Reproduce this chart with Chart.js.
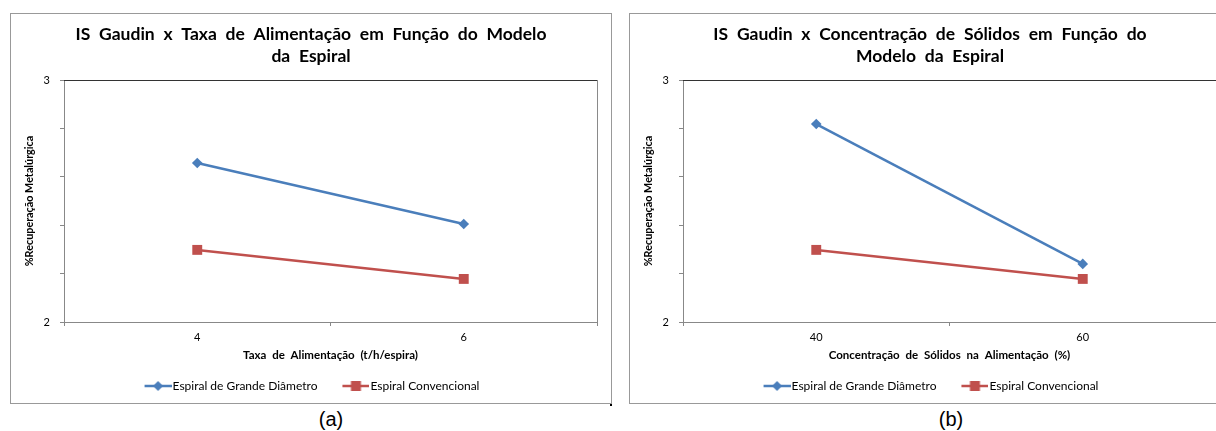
<!DOCTYPE html>
<html><head><meta charset="utf-8">
<script src="https://cdn.jsdelivr.net/npm/chart.js@4"></script>
<style>
html,body{margin:0;padding:0;background:#fff;overflow:hidden;width:1216px;height:431px;position:relative;}
.box{position:absolute;top:13px;width:600px;height:389px;border:1px solid #999;background:#fff;}
#boxA{left:10px;}
#boxB{left:629px;}
canvas{display:block;}
.lab{position:absolute;top:408px;width:100px;text-align:center;font-family:"Liberation Sans",Arial,sans-serif;font-size:20px;line-height:22px;color:#000;}
.dot{position:absolute;left:610px;top:404px;width:2px;height:2px;background:#000;}
</style>
</head><body>
<div class="box" id="boxA"><canvas id="cA" width="600" height="389"></canvas></div>
<div class="box" id="boxB"><canvas id="cB" width="600" height="389"></canvas></div>
<div class="dot"></div>
<div class="lab" style="left:281px">(a)</div>
<div class="lab" style="left:901px">(b)</div>
<script>
const seriesNames = ['Espiral de Grande Diâmetro', 'Espiral Convencional'];
const categoriesA = ['4', '6'];
const grandeA = [2.657, 2.405];
const convA = [2.298, 2.178];
const categoriesB = ['40', '60'];
const grandeB = [2.818, 2.240];
const convB = [2.298, 2.178];
const yShownTicks = [2, 3];
const titleA = ['IS Gaudin x Taxa de Alimentação em Função do Modelo', 'da Espiral'];
const titleB = ['IS Gaudin x Concentração de Sólidos em Função do', 'Modelo da Espiral'];
const xTitleA = 'Taxa de Alimentação (t/h/espira)';
const xTitleB = 'Concentração de Sólidos na Alimentação (%)';
const yTitle = '%Recuperação Metalúrgica';

const BLUE = '#4a7ebb', RED = '#c0504d';
const FONT = 'Lato, "Open Sans", sans-serif';
const PSW = 24; // legend symbol slot width

function legendIcon(color, style) {
  // image is centred on the slot centre; visible symbol drawn from slot x+2 to x+29
  const c = document.createElement('canvas');
  c.width = PSW + 10; c.height = 12;
  const g = c.getContext('2d');
  const x0 = 5 + 2, x1 = x0 + 27;
  g.strokeStyle = color; g.lineWidth = 2.5;
  g.beginPath(); g.moveTo(x0, 6); g.lineTo(x1, 6); g.stroke();
  g.fillStyle = color;
  const cx = (x0 + x1) / 2;
  if (style === 'diamond') {
    g.beginPath(); g.moveTo(cx, 1); g.lineTo(cx + 5, 6); g.lineTo(cx, 11); g.lineTo(cx - 5, 6); g.closePath(); g.fill();
  } else {
    g.fillRect(cx - 5, 1, 10, 10);
  }
  return c;
}
const iconBlue = legendIcon(BLUE, 'diamond');
const iconRed = legendIcon(RED, 'square');

const frame = {
  id: 'frame',
  beforeDatasetsDraw(c) {
    const {ctx, chartArea: a} = c;
    ctx.save();
    ctx.lineWidth = 1;
    ctx.strokeStyle = '#333';
    ctx.beginPath(); ctx.moveTo(a.left, Math.round(a.top) + 0.5); ctx.lineTo(a.right + 1, Math.round(a.top) + 0.5); ctx.stroke();
    ctx.strokeStyle = '#8a8a8a';
    ctx.beginPath(); ctx.moveTo(Math.round(a.right) + 0.5, a.top); ctx.lineTo(Math.round(a.right) + 0.5, a.bottom); ctx.stroke();
    ctx.restore();
  }
};

function withSpacing(obj, method, spacing) {
  const orig = obj[method];
  obj[method] = function (...args) {
    const ctx = this.ctx;
    ctx.save();
    try { ctx.wordSpacing = spacing; } catch (e) {}
    const r = orig.apply(this, args);
    ctx.restore();
    return r;
  };
}

function makeChart(id, cats, g, cv, title, xTitle) {
  const ch = new Chart(document.getElementById(id), {
    type: 'line',
    data: {
      labels: cats,
      datasets: [
        {label: seriesNames[0], data: g, borderColor: BLUE, backgroundColor: BLUE, borderWidth: 2.5,
         pointStyle: 'rectRot', pointRadius: 5.3, pointBorderWidth: 0, pointHoverRadius: 5.3, tension: 0},
        {label: seriesNames[1], data: cv, borderColor: RED, backgroundColor: RED, borderWidth: 2.5,
         pointStyle: 'rect', pointRadius: 7, pointBorderWidth: 0, pointHoverRadius: 7, tension: 0}
      ]
    },
    options: {
      responsive: false,
      animation: false,
      events: [],
      layout: {padding: {left: 0, right: 0, top: 0, bottom: 1}},
      plugins: {
        tooltip: {enabled: false},
        title: {
          display: true, text: title, color: '#000',
          font: {family: FONT, size: 17.5, weight: 'bold', lineHeight: '22px'},
          padding: {top: 9, bottom: 13}
        },
        legend: {
          position: 'bottom',
          labels: {
            color: '#000',
            font: {family: FONT, size: 12},
            usePointStyle: true,
            pointStyleWidth: PSW,
            padding: 23,
            generateLabels: () => [
              {text: seriesNames[0], pointStyle: iconBlue, fillStyle: BLUE, strokeStyle: BLUE, lineWidth: 0, datasetIndex: 0, fontColor: '#000'},
              {text: seriesNames[1], pointStyle: iconRed, fillStyle: RED, strokeStyle: RED, lineWidth: 0, datasetIndex: 1, fontColor: '#000'}
            ]
          }
        }
      },
      scales: {
        x: {
          type: 'category',
          offset: true,
          afterFit: s => { s.height = 35; },
          grid: {offset: true, drawOnChartArea: false, tickLength: 4, color: '#888'},
          border: {color: '#888', width: 1},
          ticks: {color: '#000', font: {family: FONT, size: 11}, padding: 5, maxRotation: 0},
          title: {display: true, text: xTitle, color: '#000', font: {family: FONT, size: 11.5, weight: 'bold', lineHeight: '12px'}, padding: {top: 0, bottom: -4}}
        },
        y: {
          min: 2, max: 3,
          afterFit: s => { s.width = 53; },
          afterBuildTicks: s => { s.ticks = [2, 2.2, 2.4, 2.6, 2.8, 3].map(v => ({value: v})); },
          grid: {drawOnChartArea: false, tickLength: 4, color: '#888'},
          border: {color: '#888', width: 1},
          ticks: {
            color: '#000', font: {family: FONT, size: 11}, padding: 10, autoSkip: false,
            callback: v => yShownTicks.some(t => Math.abs(t - v) < 1e-9) ? String(Math.round(v)) : ''
          },
          title: {display: true, text: yTitle, color: '#000', font: {family: FONT, size: 10.8, weight: 'bold', lineHeight: '12px'}, padding: {top: 13, bottom: 0}}
        },
        yRightGap: {
          type: 'linear', position: 'right', min: 2, max: 3,
          afterFit: s => { s.width = 14; },
          grid: {display: false, drawTicks: false},
          border: {display: false},
          ticks: {display: false}
        }
      }
    },
    plugins: [frame]
  });
  withSpacing(ch.titleBlock, 'draw', '4.5px');
  withSpacing(ch.scales.x, 'drawTitle', '3px');
  ch.draw();
  return ch;
}
makeChart('cA', categoriesA, grandeA, convA, titleA, xTitleA);
makeChart('cB', categoriesB, grandeB, convB, titleB, xTitleB);
</script>
</body></html>
